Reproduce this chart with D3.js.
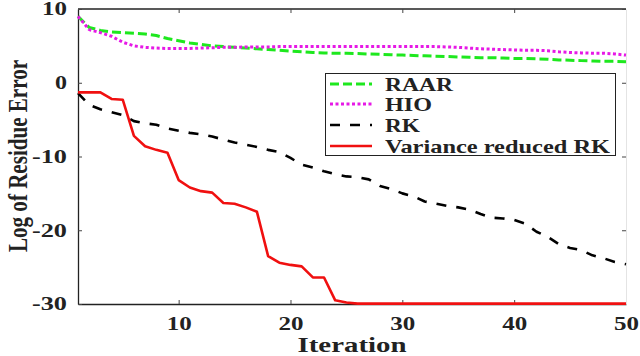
<!DOCTYPE html>
<html>
<head>
<meta charset="utf-8">
<script src="https://cdn.jsdelivr.net/npm/d3@7"></script>
<style>
  body { margin: 0; background: #fff; }
  svg text { font-family: "Times New Roman", "Liberation Serif", Tinos, serif; font-weight: bold; fill: #222; }
</style>
</head>
<body>
<div id="area"></div>
<script>
// values, iterations 1..50
var iterations = d3.range(1, 51);
var raar = [9.0, 7.5, 7.1, 6.9, 6.8, 6.7, 6.6, 6.4, 6.0, 5.7,
            5.4, 5.2, 5.0, 4.9, 4.8, 4.7, 4.6, 4.5, 4.4, 4.3,
            4.2, 4.1, 4.05, 4.0, 4.0, 3.95, 3.9, 3.85, 3.8, 3.75,
            3.7, 3.65, 3.6, 3.55, 3.5, 3.45, 3.4, 3.4, 3.35, 3.3,
            3.3, 3.25, 3.2, 3.1, 3.05, 3.0, 2.95, 2.9, 2.9, 2.85];
var hio = [9.0, 7.2, 6.8, 6.3, 5.5, 5.0, 4.8, 4.7, 4.65, 4.65,
           4.65, 4.7, 4.75, 4.8, 4.8, 4.85, 4.85, 4.85, 4.9, 4.9,
           4.9, 4.9, 4.9, 4.9, 4.9, 4.9, 4.9, 4.9, 4.9, 4.9,
           4.9, 4.9, 4.9, 4.85, 4.8, 4.7, 4.6, 4.55, 4.5, 4.45,
           4.4, 4.4, 4.35, 4.2, 4.1, 4.05, 4.0, 4.0, 3.9, 3.75];
var rk = [-1.4, -3.0, -3.6, -4.0, -4.4, -5.2, -5.5, -5.7, -6.2, -6.5,
          -6.8, -7.0, -7.3, -7.7, -8.1, -8.4, -8.7, -9.1, -9.4, -10.2,
          -11.1, -11.5, -12.0, -12.4, -12.7, -12.8, -13.1, -14.0, -14.4, -15.0,
          -15.4, -16.1, -16.4, -16.7, -16.9, -17.2, -17.8, -18.3, -18.4, -18.6,
          -19.1, -20.2, -20.9, -21.9, -22.4, -22.7, -23.4, -23.8, -24.3, -24.6];
var vrrk = [-1.3, -1.3, -1.3, -2.2, -2.3, -7.2, -8.6, -9.1, -9.5, -13.2,
            -14.2, -14.7, -14.9, -16.3, -16.4, -16.9, -17.5, -23.5, -24.4, -24.7,
            -24.9, -26.4, -26.4, -29.5, -29.8, -29.95, -29.95, -29.95, -29.95, -29.95,
            -29.95, -29.95, -29.95, -29.95, -29.95, -29.95, -29.95, -29.95, -29.95, -29.95,
            -29.95, -29.95, -29.95, -29.95, -29.95, -29.95, -29.95, -29.95, -29.95, -29.95];
var xTicks = [10, 20, 30, 40, 50];
var yTicks = [-30, -20, -10, 0, 10];
var seriesNames = ["RAAR", "HIO", "RK", "Variance reduced RK"];

var W = 640, H = 356;
var margin = { top: 9, right: 14, bottom: 52, left: 78 };
var width = W - margin.left - margin.right,
    height = H - margin.top - margin.bottom;

var svg = d3.select("#area").append("svg")
    .attr("width", W).attr("height", H);
var g = svg.append("g")
    .attr("transform", "translate(" + margin.left + "," + margin.top + ")");

var x = d3.scaleLinear().domain([1, 50]).range([0, width]);
var y = d3.scaleLinear().domain([-30, 10]).range([height, 0]);

// frame (right side is barely visible in the original)
g.append("line").attr("x1", 0).attr("x2", width).attr("y1", 0).attr("y2", 0)
    .attr("stroke", "#222").attr("stroke-width", 1.3);

// axes, ticks inside; plain hyphen for negatives like the original
var fmt = function (d) { return String(d); };
var xAxis = g.append("g").attr("transform", "translate(0," + height + ")")
    .call(d3.axisBottom(x).tickValues(xTicks).tickFormat(fmt).tickSizeInner(-4).tickSizeOuter(0).tickPadding(10));
var yAxis = g.append("g")
    .call(d3.axisLeft(y).tickValues(yTicks).tickFormat(fmt).tickSizeInner(-4).tickSizeOuter(0).tickPadding(11));
g.append("g").call(d3.axisTop(x).tickValues(xTicks.slice(0, 4)).tickSizeInner(-4).tickSizeOuter(0).tickFormat(""))
    .select(".domain").remove();
var rightAx = g.append("g").attr("transform", "translate(" + width + ",0)")
    .call(d3.axisRight(y).tickValues(yTicks).tickSizeInner(-4).tickSizeOuter(0).tickFormat(""));
g.selectAll(".domain").attr("stroke", "#222").attr("stroke-width", 1.3);
g.selectAll(".tick line").attr("stroke", "#444");
rightAx.select(".domain").attr("stroke", "#e4e4e4").attr("stroke-width", 1);

xAxis.selectAll("text").style("font-size", "18px").attr("dy", "0.9em")
    .attr("textLength", 25).attr("lengthAdjust", "spacingAndGlyphs");
yAxis.selectAll("text").style("font-size", "18px")
    .attr("textLength", function (d) { return d < 0 ? 35 : (d === 0 ? 12 : 25); })
    .attr("lengthAdjust", "spacingAndGlyphs");

// series
var line = d3.line().x(function (d, i) { return x(iterations[i]); }).y(function (d) { return y(d); });
var styles = [
    { data: raar, color: "#1ee81e", w: 3, dash: "9,4" },
    { data: hio, color: "#e619e6", w: 3, dash: "3,2.5" },
    { data: rk, color: "#000", w: 2.6, dash: "10,10" },
    { data: vrrk, color: "#f01010", w: 2.6, dash: null }
];
styles.forEach(function (s) {
    g.append("path").datum(s.data)
        .attr("fill", "none")
        .attr("stroke", s.color)
        .attr("stroke-width", s.w)
        .attr("stroke-dasharray", s.dash)
        .attr("stroke-linejoin", "round")
        .attr("d", line);
});

// legend
var leg = svg.append("g");
leg.append("rect").attr("x", 325.5).attr("y", 73.5).attr("width", 290).attr("height", 82)
    .attr("fill", "#fff").attr("stroke", "#222").attr("stroke-width", 1);
var legY = [84, 104, 125, 146];
var legLen = [68, 47, 35, 225];
seriesNames.forEach(function (name, i) {
    var s = styles[i];
    leg.append("line").attr("x1", 330).attr("x2", 372).attr("y1", legY[i]).attr("y2", legY[i])
        .attr("stroke", s.color).attr("stroke-width", s.w).attr("stroke-dasharray", s.dash);
    leg.append("text").attr("x", 385).attr("y", legY[i] + 6.5)
        .style("font-size", "19px")
        .attr("textLength", legLen[i]).attr("lengthAdjust", "spacingAndGlyphs")
        .text(name);
});

// axis titles
svg.append("text").attr("x", 352).attr("y", 352).attr("text-anchor", "middle")
    .style("font-size", "22px")
    .attr("textLength", 109).attr("lengthAdjust", "spacingAndGlyphs")
    .text("Iteration");
svg.append("text").attr("transform", "translate(27,156) rotate(-90)")
    .attr("text-anchor", "middle")
    .style("font-size", "27px")
    .attr("textLength", 192).attr("lengthAdjust", "spacingAndGlyphs")
    .text("Log of Residue Error");
</script>
</body>
</html>
